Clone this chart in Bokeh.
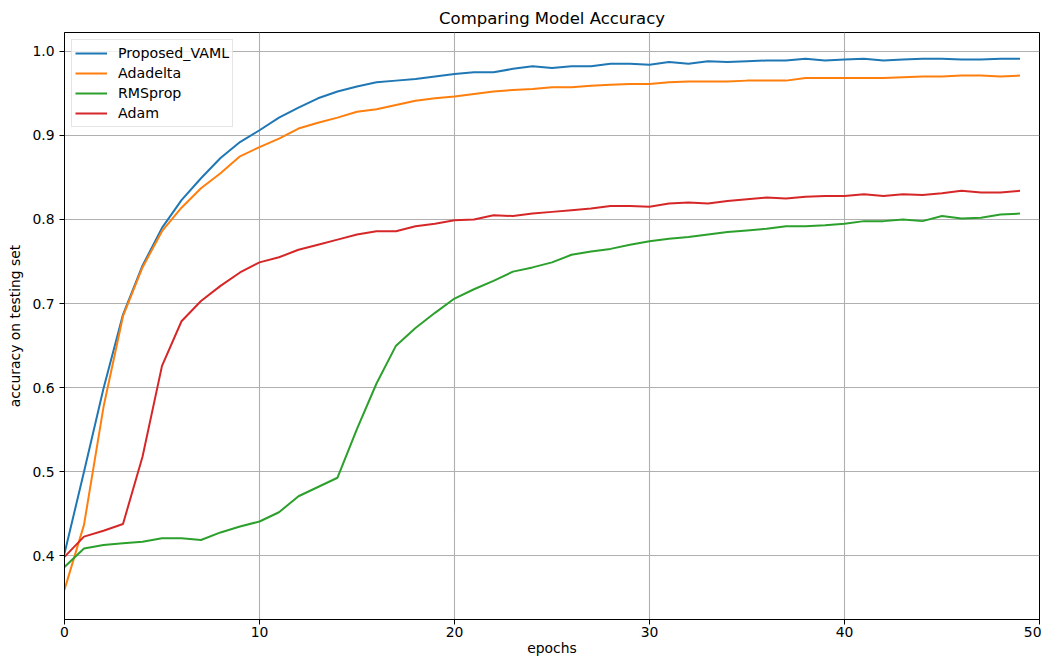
from bokeh.plotting import figure
from bokeh.models import FixedTicker, Legend, LegendItem, Range1d, PrintfTickFormatter
from bokeh.embed import file_html
from bokeh.resources import INLINE

epochs = list(range(50))
series_names = ["Proposed_VAML", "Adadelta", "RMSprop", "Adam"]
vaml = [0.403, 0.500, 0.599, 0.687, 0.745, 0.790, 0.823, 0.849, 0.873, 0.892,
        0.906, 0.921, 0.933, 0.944, 0.952, 0.958, 0.963, 0.965, 0.967, 0.970,
        0.973, 0.975, 0.975, 0.979, 0.982, 0.980, 0.982, 0.982, 0.985, 0.985,
        0.984, 0.987, 0.985, 0.988, 0.987, 0.988, 0.989, 0.989, 0.991, 0.989,
        0.990, 0.991, 0.989, 0.990, 0.991, 0.991, 0.990, 0.990, 0.991, 0.991]
adadelta = [0.360, 0.437, 0.577, 0.685, 0.743, 0.786, 0.814, 0.837, 0.855, 0.875,
            0.886, 0.896, 0.908, 0.915, 0.921, 0.928, 0.931, 0.936, 0.941, 0.944,
            0.946, 0.949, 0.952, 0.954, 0.955, 0.957, 0.957, 0.959, 0.960, 0.961,
            0.961, 0.963, 0.964, 0.964, 0.964, 0.965, 0.965, 0.965, 0.968, 0.968,
            0.968, 0.968, 0.968, 0.969, 0.970, 0.970, 0.971, 0.971, 0.970, 0.971]
rmsprop = [0.387, 0.409, 0.413, 0.415, 0.417, 0.421, 0.421, 0.419, 0.428, 0.435,
           0.441, 0.452, 0.471, 0.482, 0.493, 0.551, 0.605, 0.650, 0.671, 0.689,
           0.706, 0.717, 0.727, 0.738, 0.743, 0.749, 0.758, 0.762, 0.765, 0.770,
           0.774, 0.777, 0.779, 0.782, 0.785, 0.787, 0.789, 0.792, 0.792, 0.793,
           0.795, 0.798, 0.798, 0.800, 0.798, 0.804, 0.801, 0.802, 0.806, 0.807]
adam = [0.399, 0.423, 0.430, 0.438, 0.518, 0.626, 0.679, 0.703, 0.721, 0.737,
        0.749, 0.755, 0.764, 0.770, 0.776, 0.782, 0.786, 0.786, 0.792, 0.795,
        0.799, 0.800, 0.805, 0.804, 0.807, 0.809, 0.811, 0.813, 0.816, 0.816,
        0.815, 0.819, 0.820, 0.819, 0.822, 0.824, 0.826, 0.825, 0.827, 0.828,
        0.828, 0.830, 0.828, 0.830, 0.829, 0.831, 0.834, 0.832, 0.832, 0.834]
x_ticks = [0, 10, 20, 30, 40, 50]
y_ticks = [0.4, 0.5, 0.6, 0.7, 0.8, 0.9, 1.0]
title_text = "Comparing Model Accuracy"
x_label = "epochs"
y_label = "accuracy on testing set"

colors = ["#1f77b4", "#ff7f0e", "#2ca02c", "#d62728"]
FONT = "DejaVu Sans"

p = figure(width=1041, height=658, x_range=Range1d(0, 50), y_range=Range1d(0.3245, 1.0222),
           output_backend="svg", toolbar_location=None, title=title_text,
           min_border_left=64, min_border_right=2, min_border_top=32, min_border_bottom=36)
p.background_fill_color = "white"
p.border_fill_color = "white"
p.outline_line_color = "black"
p.outline_line_width = 1

p.title.align = "center"
p.title.text_font = FONT
p.title.text_font_size = "16.5px"
p.title.text_font_style = "normal"
p.title.text_color = "black"
p.title.standoff = 9

for ax in (p.xaxis[0], p.yaxis[0]):
    ax.axis_line_color = "black"
    ax.axis_line_width = 1
    ax.major_tick_line_color = "black"
    ax.major_tick_out = 5
    ax.major_tick_in = 0
    ax.minor_tick_out = 0
    ax.minor_tick_in = 0
    ax.major_label_text_font = FONT
    ax.major_label_text_font_size = "13.9px"
    ax.major_label_text_color = "black"
    ax.axis_label_text_font = FONT
    ax.axis_label_text_font_size = "13.9px"
    ax.axis_label_text_font_style = "normal"
    ax.axis_label_text_color = "black"

p.xaxis.ticker = FixedTicker(ticks=x_ticks)
p.yaxis.ticker = FixedTicker(ticks=y_ticks)
p.yaxis.formatter = PrintfTickFormatter(format="%.1f")
p.xaxis.major_label_standoff = 2
p.yaxis.major_label_standoff = 5
p.xaxis.axis_label = x_label
p.xaxis.axis_label_standoff = 0
p.yaxis.axis_label = y_label
p.yaxis.axis_label_standoff = 6

p.xgrid.ticker = FixedTicker(ticks=x_ticks)
p.ygrid.ticker = FixedTicker(ticks=y_ticks)
for g in (p.xgrid[0], p.ygrid[0]):
    g.grid_line_color = "#b0b0b0"
    g.grid_line_width = 1.1

items = []
for name, ys, c in zip(series_names, [vaml, adadelta, rmsprop, adam], colors):
    r = p.line(epochs, ys, line_color=c, line_width=2)
    items.append(LegendItem(label=name, renderers=[r]))

legend = Legend(items=items, location="top_left", margin=7, padding=3, spacing=0,
                glyph_width=32, glyph_height=20, label_height=20, label_standoff=11,
                label_text_font=FONT, label_text_font_size="14.2px", label_text_color="black",
                border_line_color="#cccccc", border_line_width=1,
                background_fill_color="white", background_fill_alpha=0.8)
p.add_layout(legend)

open("out.html", "w").write(file_html(p, INLINE))
